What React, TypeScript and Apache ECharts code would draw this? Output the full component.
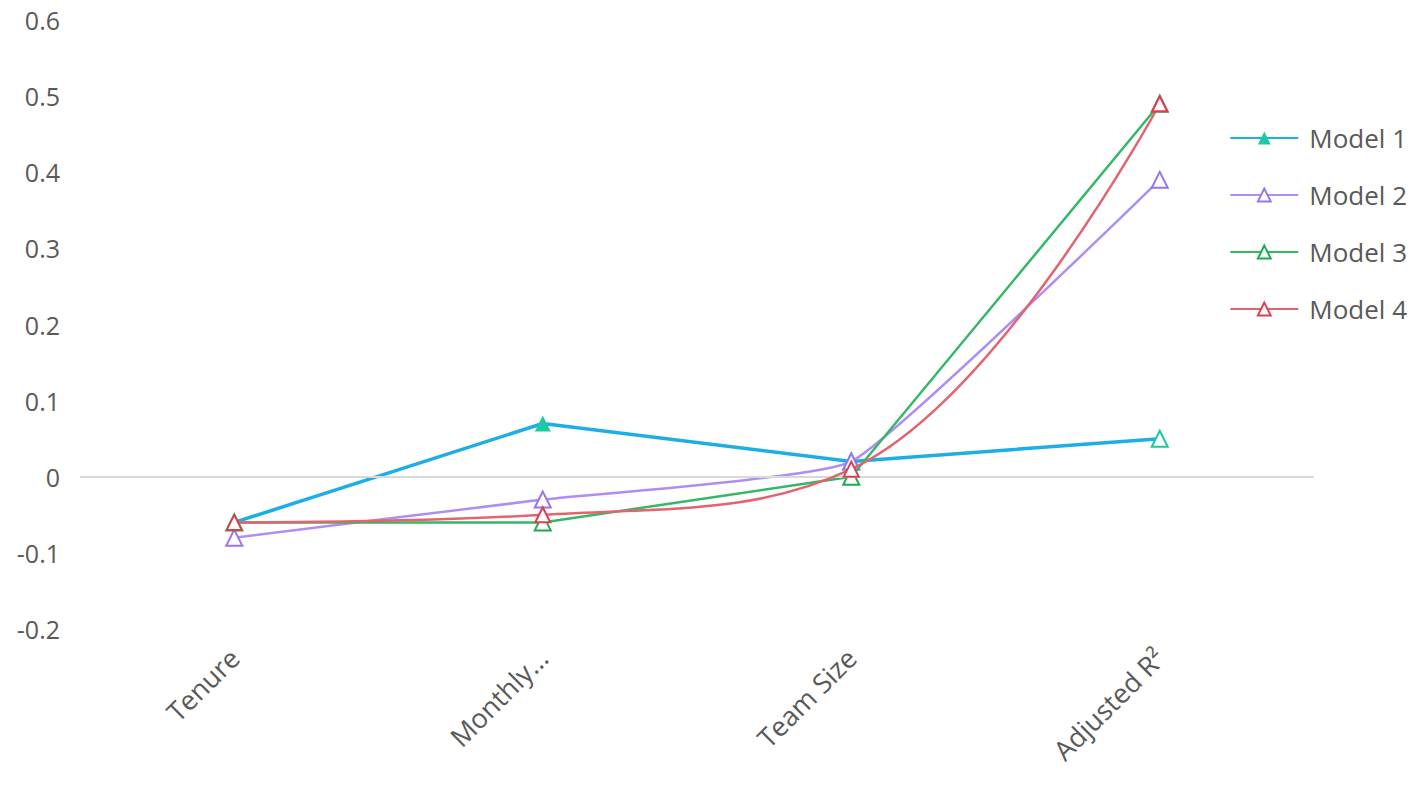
import React, { useEffect, useRef } from "react";
import * as echarts from "echarts";

const categories = ["Tenure", "Monthly...", "Team Size", "Adjusted R²"];
const model1 = [-0.06, 0.07, 0.02, 0.05];
const model2 = [-0.08, -0.03, 0.02, 0.39];
const model3 = [-0.06, -0.06, 0.0, 0.49];
const model4 = [-0.06, -0.05, 0.01, 0.49];
const yTicks = { min: -0.2, max: 0.6, interval: 0.1 };

const FONT = "'Open Sans', 'Noto Sans', sans-serif";
const TEXT = "#595959";

export default function App() {
  const ref = useRef<HTMLDivElement>(null);
  useEffect(() => {
    if (!ref.current) return;
    const chart = echarts.init(ref.current, undefined, { renderer: "svg" });
    const teal = "#1ec9a0";
    const hollow = (c: string) => ({ color: "#fff", borderColor: c, borderWidth: 2 });
    chart.setOption({
      animation: false,
      textStyle: { fontFamily: FONT },
      grid: { left: 80, right: 104, top: 20, bottom: 170, containLabel: false },
      legend: {
        orient: "vertical",
        right: 6,
        top: 120,
        itemWidth: 68,
        itemHeight: 16,
        itemGap: 31,
        textStyle: { fontSize: 26, color: TEXT, fontFamily: FONT, padding: [0, 0, 0, 6] },
        data: ["Model 1", "Model 2", "Model 3", "Model 4"],
      },
      xAxis: {
        type: "category",
        data: categories,
        boundaryGap: true,
        axisLine: { show: false },
        axisTick: { show: false },
        axisLabel: { rotate: 45, fontSize: 27, color: TEXT, margin: 24, fontFamily: FONT },
        splitLine: { show: false },
      },
      yAxis: {
        type: "value",
        min: yTicks.min,
        max: yTicks.max,
        interval: yTicks.interval,
        axisLine: { show: false },
        axisTick: { show: false },
        splitLine: { show: false },
        axisLabel: { fontSize: 25, color: TEXT, margin: 20, fontFamily: FONT },
      },
      series: [
        {
          name: "Model 1",
          type: "line",
          data: model1.map((v, i) => (i >= 2 ? { value: v, itemStyle: hollow(teal) } : v)),
          symbol: "triangle",
          symbolSize: 16,
          lineStyle: { color: "#1eaee6", width: 3.5 },
          itemStyle: { color: teal },
          z: 2,
          markLine: {
            silent: true,
            symbol: "none",
            label: { show: false },
            lineStyle: { color: "#d9d9d9", width: 2, type: "solid" },
            data: [{ yAxis: 0 }],
          },
        },
        {
          name: "Model 2",
          type: "line",
          data: model2,
          symbol: "emptyTriangle",
          symbolSize: 16,
          lineStyle: { color: "#ad8ef5", width: 2.5 },
          itemStyle: { color: "#9a74ee", borderWidth: 2.5 },
          smooth: 0.12,
          z: 3,
        },
        {
          name: "Model 3",
          type: "line",
          data: model3,
          symbol: "emptyTriangle",
          symbolSize: 16,
          lineStyle: { color: "#35b866", width: 2.5 },
          itemStyle: { color: "#22a855", borderWidth: 2.5 },
          z: 4,
        },
        {
          name: "Model 4",
          type: "line",
          data: model4,
          symbol: "emptyTriangle",
          symbolSize: 15,
          lineStyle: { color: "#e3646f", width: 2.5 },
          itemStyle: { color: "#d9404f", borderWidth: 2.5 },
          smooth: 0.4,
          z: 5,
        },
      ],
    });
    return () => chart.dispose();
  }, []);
  return (
    <div
      ref={ref}
      style={{ position: "fixed", left: 0, top: 0, width: 1418, height: 799, background: "#fff" }}
    />
  );
}
